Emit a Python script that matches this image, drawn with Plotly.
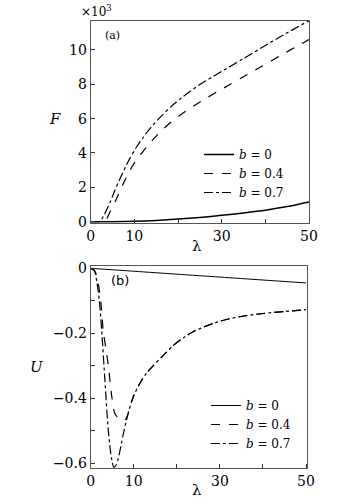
import plotly.graph_objects as go

# ---------------- data ----------------
# panel (a): F (x10^3) vs lambda
lam_a_b0 = [0, 5, 10, 15, 20, 25, 30, 35, 40, 45, 50]
F_b0 = [0, 0.0, 0.02, 0.07, 0.15, 0.25, 0.37, 0.51, 0.67, 0.88, 1.15]

lam_a_b04 = [0, 2.5, 3.3, 4.3, 5.6, 7.5, 9.7, 12.8, 15, 18.4, 21, 24.5, 28, 31.5, 35, 39.1, 44, 50]
F_b04 = [0, 0.0, 0.02, 0.5, 1.16, 2.23, 3.3, 4.35, 4.98, 5.8, 6.3, 6.88, 7.42, 7.93, 8.44, 9.03,
         9.75, 10.6]

lam_a_b07 = [0, 1.5, 2.1, 3.0, 4.4, 5.5, 6.7, 8.0, 9.0, 10.5, 12.0, 13.2, 16, 18.4, 21, 24.5, 28,
             31.5, 35, 39.1, 44, 50]
F_b07 = [0, 0.0, 0.02, 0.35, 1.1, 1.8, 2.5, 3.2, 3.7, 4.35, 4.9, 5.3, 6.1, 6.7, 7.25, 7.9,
         8.45, 8.97, 9.5, 10.12, 10.85, 11.7]

# panel (b): U vs lambda
lam_b_b0 = [0, 10, 20, 30, 40, 50]
U_b0 = [0, -0.009, -0.018, -0.027, -0.036, -0.045]

lam_tail = [9.9, 11.5, 13, 14.5, 16.9, 19.2, 21.5, 23.8, 28.5, 32.3, 36, 40, 45, 50]
U_tail = [-0.395, -0.352, -0.322, -0.3, -0.267, -0.237, -0.214, -0.195, -0.169, -0.155,
          -0.146, -0.139, -0.133, -0.127]

lam_b_b04 = [0, 1, 1.8, 2.4, 2.9, 3.5, 4.1, 4.9, 5.6, 6.4, 7.6, 8.2, 8.7] + lam_tail
U_b04 = [0, -0.01, -0.05, -0.11, -0.19, -0.245, -0.3, -0.395, -0.446, -0.46, -0.467, -0.463,
         -0.446] + U_tail

lam_b_b07 = [0, 0.8, 1.4, 2.0, 2.55, 3.3, 4.1, 4.9, 5.4, 5.9, 6.4, 7.6, 8.7] + lam_tail
U_b07 = [0, -0.005, -0.04, -0.1, -0.19, -0.344, -0.5, -0.59, -0.612, -0.605, -0.585, -0.508,
         -0.446] + U_tail

legend_names = ["<i>b</i> = 0", "<i>b</i> = 0.4", "<i>b</i> = 0.7"]
x_tickvals = [0, 10, 30, 50]
Fa_tickvals = [0, 2, 4, 6, 8, 10]
Ub_tickvals = [0, -0.2, -0.4, -0.6]
Ub_ticktext = ["0", "−0.2", "−0.4", "−0.6"]

# ---------------- figure ----------------
FONT = "DejaVu Serif"
W, H = 351, 503
fig = go.Figure()

dashes = ["solid", "dash", "dashdot"]
top = [(lam_a_b0, F_b0), (lam_a_b04, F_b04), (lam_a_b07, F_b07)]
bot = [(lam_b_b0, U_b0), (lam_b_b04, U_b04), (lam_b_b07, U_b07)]

for (x, y), d, n in zip(top, dashes, legend_names):
    fig.add_trace(go.Scatter(x=x, y=y, mode="lines", name=n, xaxis="x", yaxis="y",
                             line=dict(color="black", width=1.5 if d == "solid" else 1.2,
                                       dash=d, shape="spline", smoothing=0.8),
                             legend="legend"))
for (x, y), d, n in zip(bot, dashes, legend_names):
    fig.add_trace(go.Scatter(x=x, y=y, mode="lines", name=n, xaxis="x2", yaxis="y2",
                             line=dict(color="black", width=1.0 if d == "solid" else 1.2,
                                       dash=d, shape="spline", smoothing=0.8),
                             legend="legend2"))

axis_common = dict(showline=True, linecolor="#555", linewidth=1, mirror=True,
                   ticks="inside", ticklen=4, tickcolor="#333", showgrid=False,
                   zeroline=False, tickfont=dict(family=FONT, size=14, color="black"),
                   automargin=False)

px2x = lambda p: p / W
py2y = lambda p: 1 - p / H

fig.update_layout(
    width=W, height=H, margin=dict(l=0, r=0, t=0, b=0),
    paper_bgcolor="white", plot_bgcolor="white",
    font=dict(family=FONT, color="black"),
    xaxis=dict(domain=[px2x(90.7), px2x(309)], range=[0, 50], anchor="y",
               tickvals=x_tickvals,
               minor=dict(dtick=10, tick0=0, ticks="inside", ticklen=4, tickcolor="#333"),
               **axis_common),
    yaxis=dict(domain=[py2y(222.7), py2y(20.7)], range=[-0.06, 11.7], anchor="x",
               tickvals=Fa_tickvals, **axis_common),
    xaxis2=dict(domain=[px2x(90.7), px2x(307.3)], range=[0, 50.3], anchor="y2",
                tickvals=x_tickvals,
                minor=dict(dtick=10, tick0=0, ticks="inside", ticklen=4, tickcolor="#333"),
                **axis_common),
    yaxis2=dict(domain=[py2y(468.3), py2y(265.7)], range=[-0.615, 0.008], anchor="x2",
                tickvals=Ub_tickvals, ticktext=Ub_ticktext,
                minor=dict(dtick=0.1, tick0=0, ticks="inside", ticklen=4, tickcolor="#333"),
                **axis_common),
    legend=dict(x=px2x(199), y=py2y(140), xanchor="left", yanchor="top",
                bgcolor="rgba(0,0,0,0)", font=dict(family=FONT, size=12),
                itemwidth=30, tracegroupgap=0),
    legend2=dict(x=px2x(206), y=py2y(391), xanchor="left", yanchor="top",
                 bgcolor="rgba(0,0,0,0)", font=dict(family=FONT, size=12),
                 itemwidth=30, tracegroupgap=0),
    showlegend=True,
)

ann = [
    dict(text="×10<sup>3</sup>", x=px2x(96), y=py2y(11), xanchor="center", yanchor="middle",
         font=dict(size=12)),
    dict(text="(a)", x=px2x(112), y=py2y(35), xanchor="center", yanchor="middle",
         font=dict(size=11)),
    dict(text="(b)", x=px2x(120), y=py2y(280), xanchor="center", yanchor="middle",
         font=dict(size=13, family="DejaVu Sans")),
    dict(text="<i>F</i>", x=px2x(55), y=py2y(119), xanchor="center", yanchor="middle",
         font=dict(size=15)),
    dict(text="<i>U</i>", x=px2x(37), y=py2y(367), xanchor="center", yanchor="middle",
         font=dict(size=15)),
    dict(text="λ", x=px2x(197), y=py2y(246), xanchor="center", yanchor="middle",
         font=dict(size=15)),
    dict(text="λ", x=px2x(197), y=py2y(490), xanchor="center", yanchor="middle",
         font=dict(size=15)),
]
for a in ann:
    a.update(xref="paper", yref="paper", showarrow=False)
    a["font"].setdefault("family", FONT)
    a["font"]["color"] = "black"
fig.update_layout(annotations=ann)

fig.write_html("out.html")
